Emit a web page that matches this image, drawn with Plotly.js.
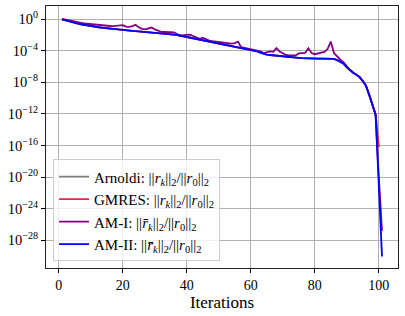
<!DOCTYPE html>
<html><head><meta charset="utf-8">
<script src="https://cdn.plot.ly/plotly-3.0.1.min.js"></script>
<style>html,body{margin:0;padding:0;background:#fff}#chart{width:405px;height:316px}</style>
</head><body><div id="chart"></div>
<script>
// iterations for each series
const itersLong = [1,2,3,4,5,6,7,8,9,10,11,12,13,14,15,16,17,18,19,20,21,22,23,24,25,26,27,28,29,30,31,32,33,34,35,36,37,38,39,40,41,42,43,44,45,46,47,48,49,50,51,52,53,54,55,56,57,58,59,60,61,62,63,64,65,66,67,68,69,70,71,72,73,74,75,76,77,78,79,80,81,82,83,84,85,86,87,88,89,90,91,92,93,94,95,96,97,98,99,100,101];
const itersShort = [1,2,3,4,5,6,7,8,9,10,11,12,13,14,15,16,17,18,19,20,21,22,23,24,25,26,27,28,29,30,31,32,33,34,35,36,37,38,39,40,41,42,43,44,45,46,47,48,49,50,51,52,53,54,55,56,57,58,59,60,61,62,63,64,65,66,67,68,69,70,71,72,73,74,75,76,77,78,79,80,81,82,83,84,85,86,87,88,89,90,91,92,93,94,95,96,97,98,99,100];

// log10 of relative residuals
const arnoldiLog = [-0.05,-0.17,-0.28,-0.38,-0.48,-0.57,-0.66,-0.74,-0.82,-0.89,-0.95,-1.01,-1.07,-1.12,-1.17,-1.22,-1.27,-1.31,-1.35,-1.4,-1.43,-1.46,-1.5,-1.53,-1.56,-1.6,-1.63,-1.66,-1.7,-1.73,-1.77,-1.8,-1.84,-1.88,-1.92,-1.97,-2.02,-2.1,-2.25,-2.35,-2.42,-2.48,-2.55,-2.63,-2.7,-2.78,-2.86,-2.94,-3.01,-3.1,-3.18,-3.26,-3.35,-3.42,-3.5,-3.58,-3.65,-3.73,-3.82,-3.9,-4.0,-4.1,-4.25,-4.4,-4.5,-4.55,-4.58,-4.6,-4.63,-4.66,-4.69,-4.72,-4.76,-4.82,-4.9,-4.95,-4.98,-5.0,-5.0,-5.01,-5.01,-5.02,-5.02,-5.03,-5.04,-5.05,-5.2,-5.4,-5.65,-6.1,-6.5,-6.8,-7.05,-7.35,-7.85,-8.45,-9.6,-10.9,-12.1,-16.2];
const gmresLog = [-0.05,-0.17,-0.28,-0.38,-0.48,-0.57,-0.66,-0.74,-0.82,-0.89,-0.95,-1.01,-1.07,-1.12,-1.17,-1.22,-1.27,-1.31,-1.35,-1.4,-1.43,-1.46,-1.5,-1.53,-1.56,-1.6,-1.63,-1.66,-1.7,-1.73,-1.77,-1.8,-1.84,-1.88,-1.92,-1.97,-2.02,-2.1,-2.25,-2.35,-2.42,-2.48,-2.55,-2.63,-2.7,-2.78,-2.86,-2.94,-3.01,-3.1,-3.18,-3.26,-3.35,-3.42,-3.5,-3.58,-3.65,-3.73,-3.82,-3.9,-4.0,-4.1,-4.25,-4.4,-4.5,-4.55,-4.58,-4.6,-4.63,-4.66,-4.69,-4.72,-4.76,-4.82,-4.9,-4.95,-4.98,-5.0,-5.0,-5.01,-5.01,-5.02,-5.02,-5.03,-5.04,-5.05,-5.2,-5.4,-5.65,-6.1,-6.5,-6.8,-7.05,-7.35,-7.85,-8.45,-9.6,-10.9,-12.1,-16.2];
const am1Log = [0.02,-0.08,-0.18,-0.28,-0.37,-0.43,-0.5,-0.55,-0.6,-0.65,-0.7,-0.75,-0.8,-0.84,-0.86,-0.88,-0.9,-0.88,-0.87,-0.77,-0.95,-1.0,-0.9,-0.72,-1.05,-1.25,-1.3,-1.2,-1.08,-1.3,-1.5,-1.62,-1.64,-1.64,-1.65,-1.68,-1.9,-2.08,-2.05,-2.0,-1.97,-2.15,-2.35,-2.5,-2.35,-2.55,-2.72,-2.8,-2.85,-2.95,-3.0,-3.05,-3.1,-3.12,-3.05,-2.85,-3.55,-3.65,-3.75,-3.85,-3.95,-4.05,-4.1,-4.3,-4.15,-4.1,-4.15,-3.67,-4.1,-4.3,-4.55,-4.6,-4.62,-4.6,-4.35,-4.3,-4.28,-3.7,-4.3,-4.45,-4.35,-4.3,-4.15,-3.8,-2.85,-4.3,-4.8,-5.15,-5.5,-6.05,-6.45,-6.78,-7.03,-7.33,-7.83,-8.43,-9.58,-10.88,-12.08,-20.0,-26.8];
const am2Log = [-0.05,-0.17,-0.28,-0.38,-0.48,-0.57,-0.66,-0.74,-0.82,-0.89,-0.95,-1.01,-1.07,-1.12,-1.17,-1.22,-1.27,-1.31,-1.35,-1.4,-1.43,-1.46,-1.5,-1.53,-1.56,-1.6,-1.63,-1.66,-1.7,-1.73,-1.77,-1.8,-1.84,-1.88,-1.92,-1.97,-2.02,-2.1,-2.25,-2.35,-2.42,-2.48,-2.55,-2.63,-2.7,-2.78,-2.86,-2.94,-3.01,-3.1,-3.18,-3.26,-3.35,-3.42,-3.5,-3.58,-3.65,-3.73,-3.82,-3.9,-4.0,-4.1,-4.25,-4.4,-4.5,-4.55,-4.58,-4.6,-4.63,-4.66,-4.69,-4.72,-4.76,-4.82,-4.9,-4.95,-4.98,-5.0,-5.0,-5.01,-5.01,-5.02,-5.02,-5.03,-5.04,-5.05,-5.2,-5.4,-5.65,-6.1,-6.5,-6.8,-7.05,-7.35,-7.85,-8.45,-9.6,-10.9,-12.1,-21.0,-30.05];

const yTickVals = [1e0,1e-4,1e-8,1e-12,1e-16,1e-20,1e-24,1e-28];
const yTickText = ['10<sup>0</sup>','10<sup>−4</sup>','10<sup>−8</sup>','10<sup>−12</sup>','10<sup>−16</sup>','10<sup>−20</sup>','10<sup>−24</sup>','10<sup>−28</sup>'];
const xTickVals = [0,20,40,60,80,100];

const names = [
  'Arnoldi: ||<i>r</i><sub><i>k</i></sub>||<sub>2</sub>/||<i>r</i><sub>0</sub>||<sub>2</sub>',
  'GMRES: ||<i>r</i><sub><i>k</i></sub>||<sub>2</sub>/||<i>r</i><sub>0</sub>||<sub>2</sub>',
  'AM-I: ||<i>r̄</i><sub><i>k</i></sub>||<sub>2</sub>/||<i>r</i><sub>0</sub>||<sub>2</sub>',
  'AM-II: ||<i>r̄</i><sub><i>k</i></sub>||<sub>2</sub>/||<i>r</i><sub>0</sub>||<sub>2</sub>'
];
const pow = a => a.map(v => Math.pow(10, v));

const traces = [
  {x: itersShort, y: pow(arnoldiLog), name: names[0], mode:'lines', line:{color:'#7f7f7f', width:1.8}},
  {x: itersShort, y: pow(gmresLog), name: names[1], mode:'lines', line:{color:'#e8284a', width:1.8}},
  {x: itersLong, y: pow(am1Log), name: names[2], mode:'lines', line:{color:'#800080', width:1.8}},
  {x: itersLong, y: pow(am2Log), name: names[3], mode:'lines', line:{color:'#0000ff', width:1.8}}
];

const font = {family:'"Liberation Serif", "DejaVu Serif", serif', color:'#000'};
const layout = {
  width:405, height:316,
  margin:{l:46, r:7, t:6, b:48},
  paper_bgcolor:'#fff', plot_bgcolor:'#fff',
  font:Object.assign({size:14}, font),
  showlegend:true,
  legend:{x:0.02, y:0.025, xanchor:'left', yanchor:'bottom', bgcolor:'rgba(255,255,255,0.8)', bordercolor:'#cccccc', borderwidth:1, font:Object.assign({size:15}, font), tracegroupgap:0, itemwidth:30},
  xaxis:{range:[-4,106], tickvals:xTickVals, ticks:'outside', ticklen:4, tickcolor:'#000', showgrid:true, gridcolor:'#b0b0b0', gridwidth:1, zeroline:false, showline:true, linecolor:'#222', linewidth:1, mirror:true, title:{text:'Iterations', font:Object.assign({size:17}, font), standoff:4}, tickfont:Object.assign({size:14}, font)},
  yaxis:{type:'log', range:[-31.5,1.65], tickvals:yTickVals, ticktext:yTickText, ticks:'outside', ticklen:4, tickcolor:'#000', showgrid:true, gridcolor:'#b0b0b0', gridwidth:1, zeroline:false, showline:true, linecolor:'#222', linewidth:1, mirror:true, tickfont:Object.assign({size:14.5}, font)}
};
Plotly.newPlot('chart', traces, layout, {displayModeBar:false, staticPlot:true});
</script></body></html>
